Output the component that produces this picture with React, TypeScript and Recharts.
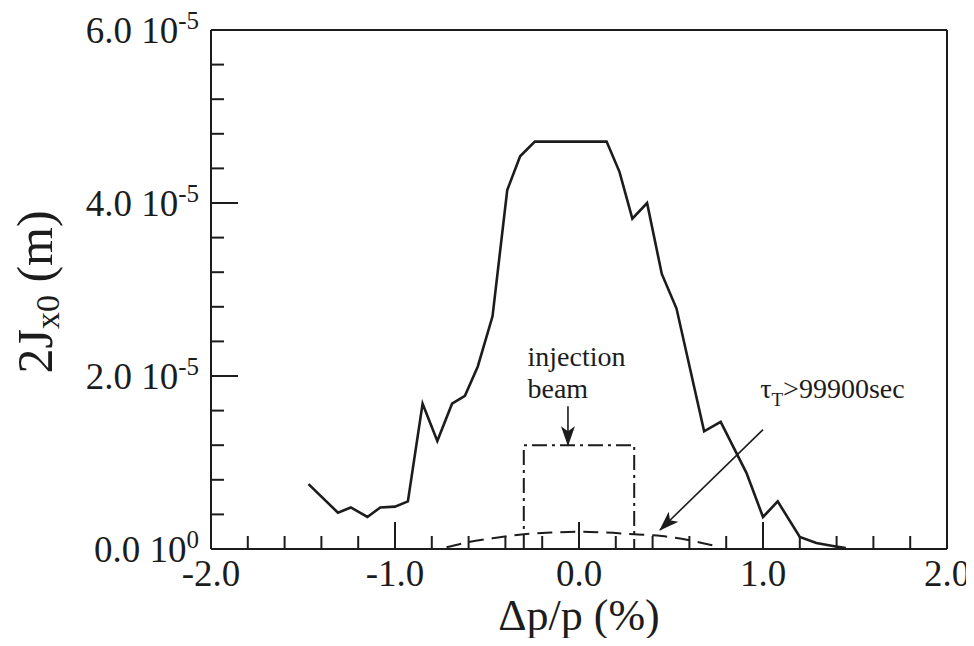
import React from 'react';
import { LineChart, Line, XAxis, YAxis, ReferenceLine, ReferenceDot } from 'recharts';

// dynamic aperture: momentum deviation (%) vs 2Jx0 (in units of 1e-5 m)
const dpAperture = [-1.47, -1.31, -1.24, -1.15, -1.08, -1.0, -0.93, -0.85, -0.77, -0.69, -0.62, -0.55, -0.47, -0.39, -0.32, -0.24, 0.15, 0.22, 0.29, 0.37, 0.45, 0.53, 0.68, 0.77, 0.91, 1.0, 1.08, 1.2, 1.29, 1.38, 1.45];
const jAperture = [0.75, 0.42, 0.48, 0.37, 0.48, 0.49, 0.55, 1.68, 1.25, 1.68, 1.77, 2.11, 2.69, 4.15, 4.54, 4.71, 4.71, 4.36, 3.82, 4.0, 3.18, 2.78, 1.36, 1.47, 0.88, 0.37, 0.55, 0.14, 0.07, 0.035, 0.01];

// Touschek lifetime contour (tau_T > 99900 sec)
const dpLifetime = [-0.72, -0.6, -0.45, -0.3, -0.15, 0, 0.15, 0.3, 0.45, 0.6, 0.75];
const jLifetime = [0.02, 0.08, 0.13, 0.17, 0.19, 0.2, 0.19, 0.17, 0.15, 0.1, 0.03];

// injection beam outline
const dpBeam = [-0.3, -0.3, 0.3, 0.3];
const jBeam = [0, 1.2, 1.2, 0];

const xTicks = [-2, -1.8, -1.6, -1.4, -1.2, -1, -0.8, -0.6, -0.4, -0.2, 0, 0.2, 0.4, 0.6, 0.8, 1, 1.2, 1.4, 1.6, 1.8, 2];
const xMajor = [-2, -1, 0, 1, 2];
const yTicks = [0, 0.4, 0.8, 1.2, 1.6, 2, 2.4, 2.8, 3.2, 3.6, 4, 4.4, 4.8, 5.2, 5.6, 6];
const yMajor = [0, 2, 4, 6];

const apertureData = dpAperture.map((dp, i) => ({ dp, j: jAperture[i] }));
const lifetimeData = dpLifetime.map((dp, i) => ({ dp, j: jLifetime[i] }));
const beamData = dpBeam.map((dp, i) => ({ dp, j: jBeam[i] }));

const INK = '#1c1c1c';
const FONT = "'Liberation Serif', 'Times New Roman', Times, serif";
const MAJOR_LEN = 27;
const MINOR_LEN = 13;

const BottomTick = ({ x, y, payload }: any) => {
  const major = xMajor.includes(payload.value);
  return (
    <g>
      <line x1={x} x2={x} y1={y} y2={y - (major ? MAJOR_LEN : MINOR_LEN)} stroke={INK} strokeWidth={2} />
      {major && (
        <text x={x} y={y + 37} textAnchor="middle" style={{ fontFamily: FONT }} fontSize={37} fill={INK}>
          {payload.value.toFixed(1)}
        </text>
      )}
    </g>
  );
};

const TopTick = ({ x, y, payload }: any) => {
  const major = xMajor.includes(payload.value);
  return <line x1={x} x2={x} y1={y} y2={y + (major ? MAJOR_LEN : MINOR_LEN)} stroke={INK} strokeWidth={2} />;
};

const LeftTick = ({ x, y, payload }: any) => {
  const major = yMajor.includes(payload.value);
  return (
    <g>
      <line x1={x} x2={x + (major ? MAJOR_LEN : MINOR_LEN)} y1={y} y2={y} stroke={INK} strokeWidth={2} />
      {major && (
        <text x={x - 12} y={y + 13} textAnchor="end" style={{ fontFamily: FONT }} fontSize={37} fill={INK}>
          {payload.value.toFixed(1)} 10
          <tspan dy={-14} fontSize={25}>{payload.value === 0 ? '0' : '-5'}</tspan>
        </text>
      )}
    </g>
  );
};

const RightTick = ({ x, y, payload }: any) => {
  const major = yMajor.includes(payload.value);
  return <line x1={x} x2={x - (major ? MAJOR_LEN : MINOR_LEN)} y1={y} y2={y} stroke={INK} strokeWidth={2} />;
};

const noteText = (lines: React.ReactNode) => (p: any) => (
  <text x={p.cx} y={p.cy} style={{ fontFamily: FONT }} fontSize={28} fill={INK}>
    {lines}
  </text>
);

const axisLine = { stroke: INK, strokeWidth: 2 };

export default function App() {
  return (
    <div style={{ width: 974, height: 646, margin: -8, background: '#fff' }}>
      <LineChart width={974} height={646} margin={{ top: 0, right: 0, bottom: 0, left: 0 }}>
        <defs>
          <marker id="arrowHead" viewBox="0 0 20 14" refX="19" refY="7" markerWidth="20" markerHeight="14" markerUnits="userSpaceOnUse" orient="auto">
            <path d="M0,0 L20,7 L0,14 L5,7 Z" fill={INK} />
          </marker>
        </defs>
        <XAxis
          dataKey="dp"
          type="number"
          domain={[-2, 2]}
          ticks={xTicks}
          interval={0}
          height={97}
          tickSize={0}
          tickMargin={0}
          tickLine={false}
          axisLine={axisLine}
          tick={<BottomTick />}
        />
        <XAxis
          xAxisId="top"
          orientation="top"
          dataKey="dp"
          type="number"
          domain={[-2, 2]}
          ticks={xTicks}
          interval={0}
          height={30}
          tickSize={0}
          tickMargin={0}
          tickLine={false}
          axisLine={axisLine}
          tick={<TopTick />}
        />
        <YAxis
          type="number"
          domain={[0, 6]}
          ticks={yTicks}
          interval={0}
          width={211}
          tickSize={0}
          tickMargin={0}
          tickLine={false}
          axisLine={axisLine}
          tick={<LeftTick />}
        />
        <YAxis
          yAxisId="right"
          orientation="right"
          type="number"
          domain={[0, 6]}
          ticks={yTicks}
          interval={0}
          width={27}
          tickSize={0}
          tickMargin={0}
          tickLine={false}
          axisLine={axisLine}
          tick={<RightTick />}
        />

        <Line data={apertureData} dataKey="j" type="linear" stroke={INK} strokeWidth={2.6} dot={false} isAnimationActive={false} />
        <Line data={lifetimeData} dataKey="j" type="monotone" stroke={INK} strokeWidth={2} strokeDasharray="15 8" dot={false} isAnimationActive={false} />
        <Line data={beamData} dataKey="j" type="linear" stroke={INK} strokeWidth={2} strokeDasharray="15 5 3 5" dot={false} isAnimationActive={false} />

        <ReferenceLine segment={[{ x: -0.06, y: 1.65 }, { x: -0.06, y: 1.2 }]} stroke={INK} strokeWidth={1.6} markerEnd="url(#arrowHead)" />
        <ReferenceLine segment={[{ x: 1.0, y: 1.38 }, { x: 0.44, y: 0.22 }]} stroke={INK} strokeWidth={1.6} markerEnd="url(#arrowHead)" />

        <ReferenceDot x={-0.28} y={2.12} r={0} shape={noteText('injection')} />
        <ReferenceDot x={-0.28} y={1.75} r={0} shape={noteText('beam')} />
        <ReferenceDot
          x={0.985}
          y={1.75}
          r={0}
          shape={noteText(
            <>
              τ<tspan dy={8} fontSize={19}>T</tspan>
              <tspan dy={-8}>&gt;99900sec</tspan>
            </>
          )}
        />

        <text transform="translate(35,292) rotate(-90)" textAnchor="middle" dominantBaseline="central" style={{ fontFamily: FONT }} fontSize={50} fill={INK}>
          2J<tspan dy={12} fontSize={34}>x0</tspan>
          <tspan dy={-12}> (m)</tspan>
        </text>
        <text x={579} y={630} textAnchor="middle" style={{ fontFamily: FONT }} fontSize={44} fill={INK}>
          Δp/p (%)
        </text>
      </LineChart>
    </div>
  );
}
